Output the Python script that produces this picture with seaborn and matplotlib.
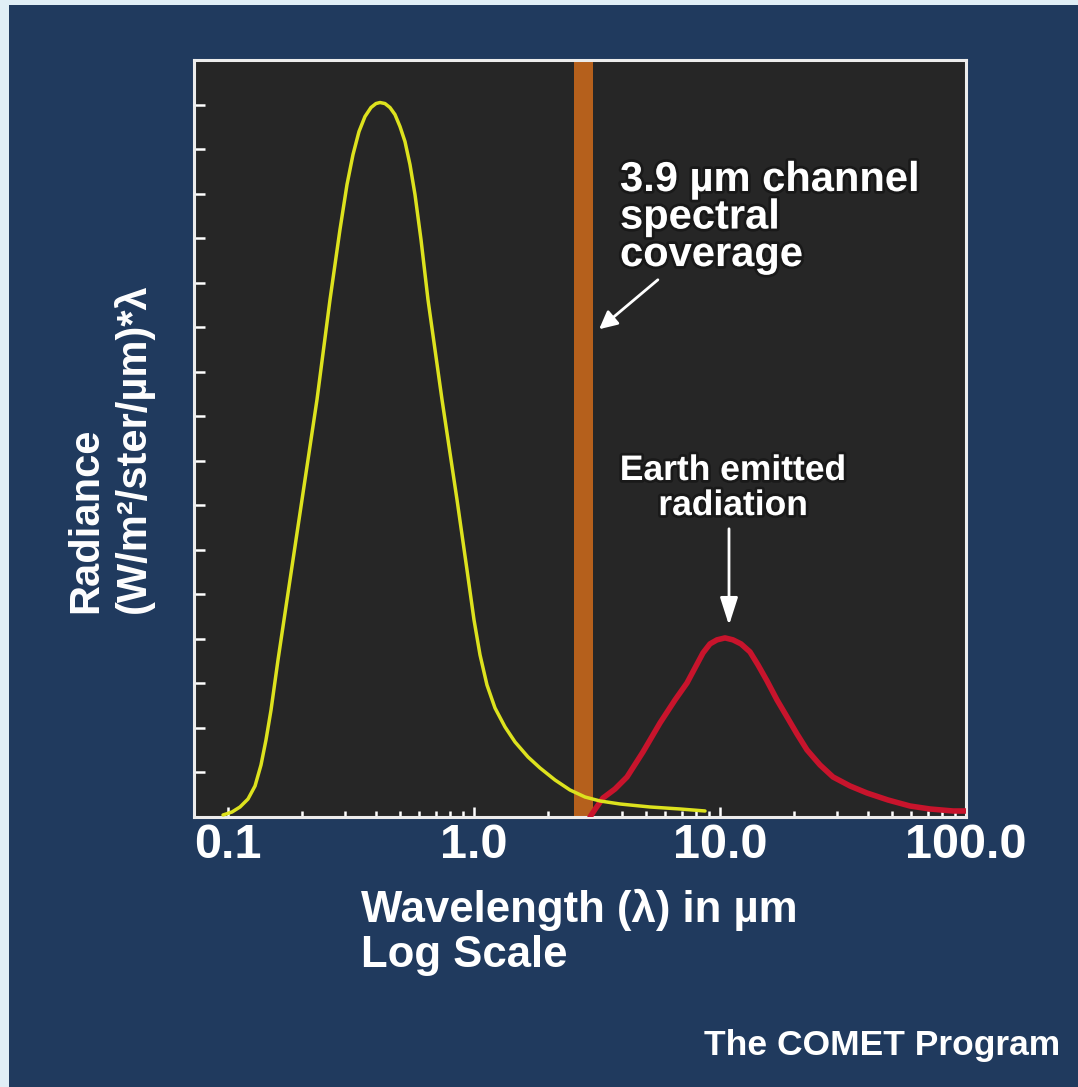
import numpy as np
import pandas as pd
import matplotlib
matplotlib.use("Agg")
import matplotlib.pyplot as plt
import seaborn as sns
from matplotlib.ticker import FixedLocator, FixedFormatter, NullFormatter
from matplotlib.patches import Rectangle
import matplotlib.patheffects as pe

# ---------------- data ----------------
solar_wavelength = [0.09544, 0.1038, 0.1119, 0.1206, 0.1288, 0.1362, 0.1427, 0.1496, 0.1597, 0.1737,
                    0.1999, 0.2300, 0.2598, 0.2852, 0.3046, 0.3222, 0.3408, 0.3604, 0.3813, 0.3995,
                    0.4148, 0.4346, 0.4554, 0.4773, 0.5002, 0.5241, 0.5492, 0.5756, 0.6089, 0.6501,
                    0.7413, 0.8530, 0.9365, 1.000, 1.058, 1.129, 1.217, 1.337, 1.468, 1.658,
                    1.855, 2.135, 2.455, 2.827, 3.252, 3.922, 5.192, 6.878, 8.690]
solar_radiance = [0.045, 0.112, 0.225, 0.404, 0.697, 1.169, 1.730, 2.404, 3.528, 4.876,
                  7.124, 9.371, 11.618, 13.191, 14.202, 14.876, 15.393, 15.730, 15.933, 16.022,
                  16.045, 16.022, 15.933, 15.775, 15.506, 15.169, 14.652, 13.978, 12.966, 11.618,
                  9.371, 7.124, 5.551, 4.427, 3.640, 2.966, 2.449, 2.022, 1.685, 1.348,
                  1.101, 0.831, 0.607, 0.449, 0.360, 0.292, 0.225, 0.180, 0.135]

earth_wavelength = [2.962, 3.132, 3.345, 3.743, 4.188, 4.864, 5.703, 6.564, 7.344, 7.914,
                    8.529, 9.105, 9.723, 10.48, 11.29, 12.17, 13.24, 14.27, 15.53, 17.05,
                    18.73, 20.56, 22.58, 25.50, 28.80, 33.77, 39.59, 48.19, 59.21, 71.40,
                    88.58, 100.0]
earth_radiance = [0.0, 0.202, 0.427, 0.629, 0.899, 1.461, 2.112, 2.629, 3.011, 3.348,
                  3.685, 3.888, 3.978, 4.022, 3.978, 3.888, 3.708, 3.416, 3.056, 2.629,
                  2.247, 1.865, 1.506, 1.169, 0.899, 0.697, 0.539, 0.382, 0.247, 0.180,
                  0.135, 0.135]

channel_band = [2.55, 3.05]

x_ticks = [0.1, 1.0, 10.0, 100.0]
x_tick_labels = ["0.1", "1.0", "10.0", "100.0"]
x_minor_ticks = [0.2, 0.3, 0.4, 0.5, 0.6, 0.7, 0.8, 0.9,
                 2, 3, 4, 5, 6, 7, 8, 9,
                 20, 30, 40, 50, 60, 70, 80, 90]
y_ticks = list(range(1, 17))

# ---------------- style ----------------
BG = "#203a5e"
FACE = "#262626"
sns.set_theme(style="dark")
plt.rcParams["font.family"] = ["Liberation Sans", "DejaVu Sans"]
plt.rcParams["font.weight"] = "bold"

W, H = 1078, 1087
fig = plt.figure(figsize=(W / 100, H / 100), dpi=100, facecolor=BG)


def fx(x):
    return x / W


def fy(y):
    return 1 - y / H


ax = fig.add_axes([fx(194), fy(817), (966 - 194) / W, (817 - 60) / H])
ax.set_facecolor(FACE)
ax.set_xscale("log")

ax.axvspan(channel_band[0], channel_band[1], color="#b5601c", lw=0, zorder=1)

solar = pd.DataFrame({"wavelength": solar_wavelength, "radiance": solar_radiance})
earth = pd.DataFrame({"wavelength": earth_wavelength, "radiance": earth_radiance})

sns.lineplot(data=earth, x="wavelength", y="radiance", sort=False, ax=ax,
             color="#c8142c", lw=4.0, zorder=3,
             solid_joinstyle="round", solid_capstyle="round")
sns.lineplot(data=solar, x="wavelength", y="radiance", sort=False, ax=ax,
             color="#dde21e", lw=2.5, zorder=4,
             solid_joinstyle="round", solid_capstyle="round")

ax.set_xlim(10 ** (2 - 772 / 246), 100)
ax.set_ylim(0, 17)
ax.set_xlabel("")
ax.set_ylabel("")
ax.grid(False)

ax.xaxis.set_major_locator(FixedLocator(x_ticks))
ax.xaxis.set_major_formatter(FixedFormatter(x_tick_labels))
ax.xaxis.set_minor_locator(FixedLocator(x_minor_ticks))
ax.xaxis.set_minor_formatter(NullFormatter())
ax.yaxis.set_major_locator(FixedLocator(y_ticks))
ax.set_yticklabels([])

ax.tick_params(axis="x", which="major", direction="in", length=7, width=1.8,
               color="white", labelcolor="white", labelsize=35, pad=4,
               bottom=True, top=False)
ax.tick_params(axis="x", which="minor", direction="in", length=4.5, width=1.8,
               color="white", bottom=True, top=False)
ax.tick_params(axis="y", which="major", direction="in", length=8, width=1.8,
               color="white", left=True, right=False)
for lab in ax.get_xticklabels():
    lab.set_fontweight("bold")

for s in ax.spines.values():
    s.set_visible(True)
    s.set_color("#ececec")
    s.set_linewidth(2.2)

shadow = [pe.withStroke(linewidth=4, foreground="#111111", alpha=0.6)]

# annotations
fig.text(fx(620), fy(160), "3.9 µm channel\nspectral\ncoverage", ha="left", va="top",
         fontsize=30, color="white", fontweight="bold", linespacing=0.92,
         path_effects=shadow)
ax.annotate("", xy=(fx(597), fy(331)), xytext=(fx(660), fy(278)),
            xycoords="figure fraction", textcoords="figure fraction",
            arrowprops=dict(arrowstyle="-|>,head_length=0.9,head_width=0.45",
                            color="white", lw=2))

fig.text(fx(733), fy(454), "Earth emitted\nradiation", ha="center", va="top",
         fontsize=25.5, color="white", fontweight="bold", linespacing=1.08,
         path_effects=shadow)
ax.annotate("", xy=(fx(729), fy(628)), xytext=(fx(729), fy(526)),
            xycoords="figure fraction", textcoords="figure fraction",
            arrowprops=dict(arrowstyle="-|>,head_length=1.4,head_width=0.45",
                            color="white", lw=2))

# axis titles
fig.text(fx(110), fy(613), "Radiance\n(W/m²/ster/µm)*λ", rotation=90,
         ha="center", va="bottom", multialignment="left",
         fontsize=30, color="white", fontweight="bold", linespacing=1.18)
fig.text(fx(361), fy(889), "Wavelength (λ) in µm\nLog Scale", ha="left", va="top",
         fontsize=31.5, color="white", fontweight="bold", linespacing=1.13)

fig.text(fx(1060), fy(1045), "The COMET Program", ha="right", va="center",
         fontsize=25.5, color="white", fontweight="bold")

# light frame strips on top and left edges
fig.add_artist(Rectangle((0, fy(5)), 1, 5 / H, transform=fig.transFigure,
                         facecolor="#e0eef6", edgecolor="none"))
fig.add_artist(Rectangle((0, 0), 9 / W, fy(5), transform=fig.transFigure,
                         facecolor="#e0eef6", edgecolor="none"))

fig.savefig("out.png", dpi=100, facecolor=BG)
